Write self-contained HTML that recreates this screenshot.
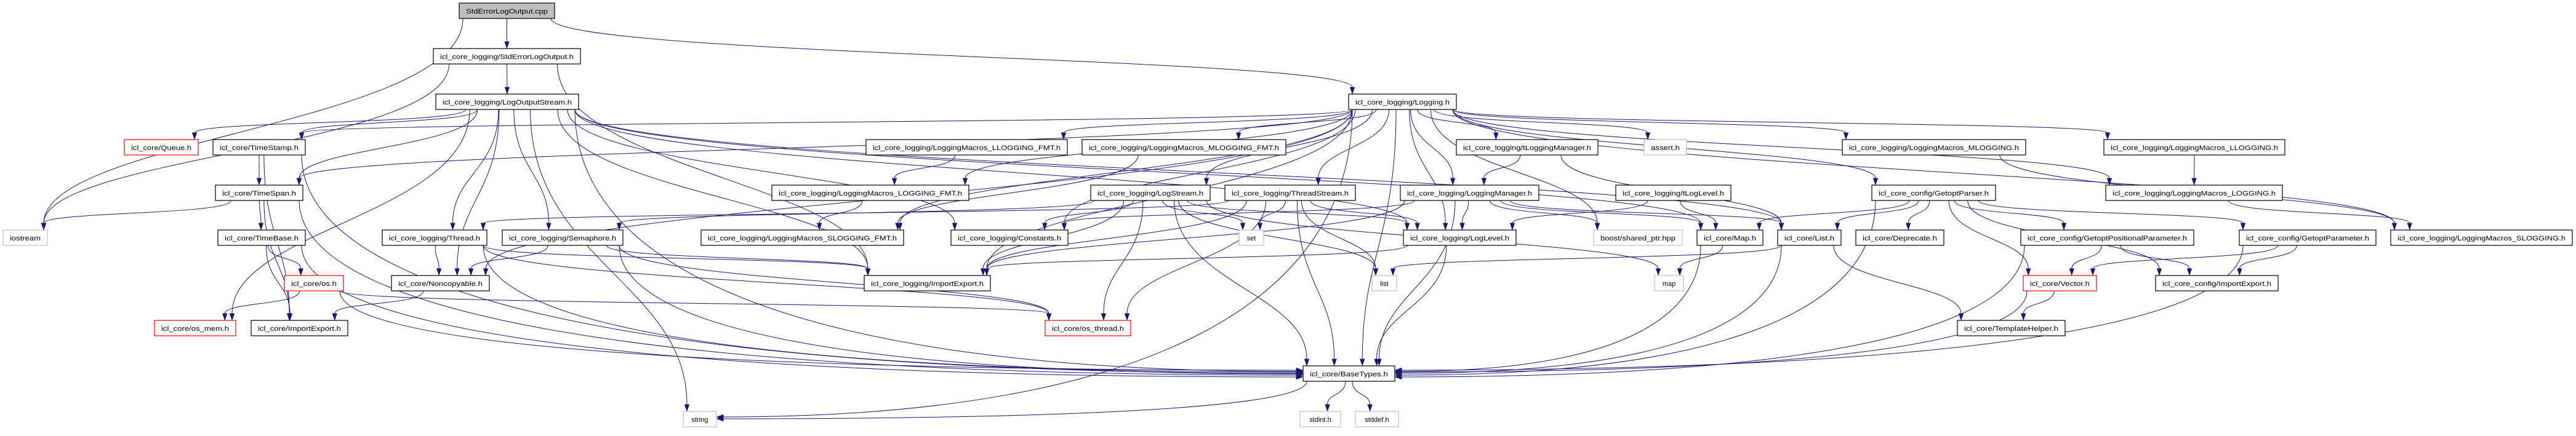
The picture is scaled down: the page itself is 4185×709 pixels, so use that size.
<!DOCTYPE html>
<html><head><meta charset="utf-8"><style>
html,body{margin:0;padding:0;background:#fff;}
svg{display:block;}
text{font-family:"Liberation Sans",Arial,sans-serif;font-size:11px;fill:#000;}
</style></head><body>
<svg id="g" width="4185" height="709" viewBox="0 0 4185 709" xmlns="http://www.w3.org/2000/svg">
<rect width="4185" height="709" fill="#fff"/>
<g id="edges" fill="none" stroke="#191970" stroke-width="1"></g>
<g id="heads" fill="#191970" stroke="#191970" stroke-width="1"></g>
<g id="nodes" stroke-width="1.2">
<rect x="746" y="5" width="155" height="25" fill="#bfbfbf" stroke="#000"/><text x="823.5" y="22" text-anchor="middle" textLength="133" lengthAdjust="spacingAndGlyphs">StdErrorLogOutput.cpp</text>
<rect x="704" y="79" width="239" height="25" fill="#fff" stroke="#000"/><text x="823.5" y="96" text-anchor="middle" textLength="217" lengthAdjust="spacingAndGlyphs">icl_core_logging/StdErrorLogOutput.h</text>
<rect x="708" y="153" width="232" height="25" fill="#fff" stroke="#000"/><text x="824" y="170" text-anchor="middle" textLength="210" lengthAdjust="spacingAndGlyphs">icl_core_logging/LogOutputStream.h</text>
<rect x="2191" y="153" width="175" height="25" fill="#fff" stroke="#000"/><text x="2278.5" y="170" text-anchor="middle" textLength="153" lengthAdjust="spacingAndGlyphs">icl_core_logging/Logging.h</text>
<rect x="202" y="227" width="120" height="25" fill="#fff" stroke="#f00"/><text x="262" y="244" text-anchor="middle" textLength="98" lengthAdjust="spacingAndGlyphs">icl_core/Queue.h</text>
<rect x="346" y="227" width="150" height="25" fill="#fff" stroke="#000"/><text x="421" y="244" text-anchor="middle" textLength="128" lengthAdjust="spacingAndGlyphs">icl_core/TimeStamp.h</text>
<rect x="1407" y="227" width="327" height="25" fill="#fff" stroke="#000"/><text x="1570.5" y="244" text-anchor="middle" textLength="305" lengthAdjust="spacingAndGlyphs">icl_core_logging/LoggingMacros_LLOGGING_FMT.h</text>
<rect x="1758" y="227" width="331" height="25" fill="#fff" stroke="#000"/><text x="1923.5" y="244" text-anchor="middle" textLength="309" lengthAdjust="spacingAndGlyphs">icl_core_logging/LoggingMacros_MLOGGING_FMT.h</text>
<rect x="2366" y="227" width="230" height="25" fill="#fff" stroke="#000"/><text x="2481" y="244" text-anchor="middle" textLength="208" lengthAdjust="spacingAndGlyphs">icl_core_logging/tLoggingManager.h</text>
<rect x="2671" y="227" width="69" height="25" fill="#fff" stroke="#bfbfbf"/><text x="2705.5" y="244" text-anchor="middle" textLength="47" lengthAdjust="spacingAndGlyphs">assert.h</text>
<rect x="2993" y="227" width="298" height="25" fill="#fff" stroke="#000"/><text x="3142" y="244" text-anchor="middle" textLength="276" lengthAdjust="spacingAndGlyphs">icl_core_logging/LoggingMacros_MLOGGING.h</text>
<rect x="3418" y="227" width="294" height="25" fill="#fff" stroke="#000"/><text x="3565" y="244" text-anchor="middle" textLength="272" lengthAdjust="spacingAndGlyphs">icl_core_logging/LoggingMacros_LLOGGING.h</text>
<rect x="350" y="301" width="142" height="25" fill="#fff" stroke="#000"/><text x="421" y="318" text-anchor="middle" textLength="120" lengthAdjust="spacingAndGlyphs">icl_core/TimeSpan.h</text>
<rect x="1254" y="301" width="320" height="25" fill="#fff" stroke="#000"/><text x="1414" y="318" text-anchor="middle" textLength="298" lengthAdjust="spacingAndGlyphs">icl_core_logging/LoggingMacros_LOGGING_FMT.h</text>
<rect x="1772" y="301" width="194" height="25" fill="#fff" stroke="#000"/><text x="1869" y="318" text-anchor="middle" textLength="172" lengthAdjust="spacingAndGlyphs">icl_core_logging/LogStream.h</text>
<rect x="1990" y="301" width="212" height="25" fill="#fff" stroke="#000"/><text x="2096" y="318" text-anchor="middle" textLength="190" lengthAdjust="spacingAndGlyphs">icl_core_logging/ThreadStream.h</text>
<rect x="2275" y="301" width="225" height="25" fill="#fff" stroke="#000"/><text x="2387.5" y="318" text-anchor="middle" textLength="203" lengthAdjust="spacingAndGlyphs">icl_core_logging/LoggingManager.h</text>
<rect x="2625" y="301" width="187" height="25" fill="#fff" stroke="#000"/><text x="2718.5" y="318" text-anchor="middle" textLength="165" lengthAdjust="spacingAndGlyphs">icl_core_logging/tLogLevel.h</text>
<rect x="3041" y="301" width="201" height="25" fill="#fff" stroke="#000"/><text x="3141.5" y="318" text-anchor="middle" textLength="179" lengthAdjust="spacingAndGlyphs">icl_core_config/GetoptParser.h</text>
<rect x="3421" y="301" width="287" height="25" fill="#fff" stroke="#000"/><text x="3564.5" y="318" text-anchor="middle" textLength="265" lengthAdjust="spacingAndGlyphs">icl_core_logging/LoggingMacros_LOGGING.h</text>
<rect x="5" y="374" width="72" height="25" fill="#fff" stroke="#bfbfbf"/><text x="41" y="391" text-anchor="middle" textLength="50" lengthAdjust="spacingAndGlyphs">iostream</text>
<rect x="354" y="374" width="142" height="25" fill="#fff" stroke="#000"/><text x="425" y="391" text-anchor="middle" textLength="120" lengthAdjust="spacingAndGlyphs">icl_core/TimeBase.h</text>
<rect x="621" y="374" width="170" height="25" fill="#fff" stroke="#000"/><text x="706" y="391" text-anchor="middle" textLength="148" lengthAdjust="spacingAndGlyphs">icl_core_logging/Thread.h</text>
<rect x="816" y="374" width="196" height="25" fill="#fff" stroke="#000"/><text x="914" y="391" text-anchor="middle" textLength="174" lengthAdjust="spacingAndGlyphs">icl_core_logging/Semaphore.h</text>
<rect x="1139" y="374" width="329" height="25" fill="#fff" stroke="#000"/><text x="1303.5" y="391" text-anchor="middle" textLength="307" lengthAdjust="spacingAndGlyphs">icl_core_logging/LoggingMacros_SLOGGING_FMT.h</text>
<rect x="1545" y="374" width="190" height="25" fill="#fff" stroke="#000"/><text x="1640" y="391" text-anchor="middle" textLength="168" lengthAdjust="spacingAndGlyphs">icl_core_logging/Constants.h</text>
<rect x="2013" y="374" width="40" height="25" fill="#fff" stroke="#bfbfbf"/><text x="2033" y="391" text-anchor="middle">set</text>
<rect x="2280" y="374" width="183" height="25" fill="#fff" stroke="#000"/><text x="2371.5" y="391" text-anchor="middle" textLength="161" lengthAdjust="spacingAndGlyphs">icl_core_logging/LogLevel.h</text>
<rect x="2589" y="374" width="144" height="25" fill="#fff" stroke="#bfbfbf"/><text x="2661" y="391" text-anchor="middle" textLength="122" lengthAdjust="spacingAndGlyphs">boost/shared_ptr.hpp</text>
<rect x="2757" y="374" width="107" height="25" fill="#fff" stroke="#000"/><text x="2810.5" y="391" text-anchor="middle" textLength="85" lengthAdjust="spacingAndGlyphs">icl_core/Map.h</text>
<rect x="2888" y="374" width="103" height="25" fill="#fff" stroke="#000"/><text x="2939.5" y="391" text-anchor="middle" textLength="81" lengthAdjust="spacingAndGlyphs">icl_core/List.h</text>
<rect x="3015" y="374" width="143" height="25" fill="#fff" stroke="#000"/><text x="3086.5" y="391" text-anchor="middle" textLength="121" lengthAdjust="spacingAndGlyphs">icl_core/Deprecate.h</text>
<rect x="3283" y="374" width="281" height="25" fill="#fff" stroke="#000"/><text x="3423.5" y="391" text-anchor="middle" textLength="259" lengthAdjust="spacingAndGlyphs">icl_core_config/GetoptPositionalParameter.h</text>
<rect x="3638" y="374" width="222" height="25" fill="#fff" stroke="#000"/><text x="3749" y="391" text-anchor="middle" textLength="200" lengthAdjust="spacingAndGlyphs">icl_core_config/GetoptParameter.h</text>
<rect x="3884" y="374" width="295" height="25" fill="#fff" stroke="#000"/><text x="4031.5" y="391" text-anchor="middle" textLength="273" lengthAdjust="spacingAndGlyphs">icl_core_logging/LoggingMacros_SLOGGING.h</text>
<rect x="462" y="448" width="96" height="25" fill="#fff" stroke="#f00"/><text x="510" y="465" text-anchor="middle" textLength="74" lengthAdjust="spacingAndGlyphs">icl_core/os.h</text>
<rect x="636" y="448" width="159" height="25" fill="#fff" stroke="#000"/><text x="715.5" y="465" text-anchor="middle" textLength="137" lengthAdjust="spacingAndGlyphs">icl_core/Noncopyable.h</text>
<rect x="1404" y="448" width="205" height="25" fill="#fff" stroke="#000"/><text x="1506.5" y="465" text-anchor="middle" textLength="183" lengthAdjust="spacingAndGlyphs">icl_core_logging/ImportExport.h</text>
<rect x="2229" y="448" width="40" height="25" fill="#fff" stroke="#bfbfbf"/><text x="2249" y="465" text-anchor="middle">list</text>
<rect x="2688" y="448" width="47" height="25" fill="#fff" stroke="#bfbfbf"/><text x="2711.5" y="465" text-anchor="middle">map</text>
<rect x="3287" y="448" width="119" height="25" fill="#fff" stroke="#f00"/><text x="3346.5" y="465" text-anchor="middle" textLength="97" lengthAdjust="spacingAndGlyphs">icl_core/Vector.h</text>
<rect x="3502" y="448" width="199" height="25" fill="#fff" stroke="#000"/><text x="3601.5" y="465" text-anchor="middle" textLength="177" lengthAdjust="spacingAndGlyphs">icl_core_config/ImportExport.h</text>
<rect x="251" y="521" width="132" height="25" fill="#fff" stroke="#f00"/><text x="317" y="538" text-anchor="middle" textLength="110" lengthAdjust="spacingAndGlyphs">icl_core/os_mem.h</text>
<rect x="408" y="521" width="157" height="25" fill="#fff" stroke="#000"/><text x="486.5" y="538" text-anchor="middle" textLength="135" lengthAdjust="spacingAndGlyphs">icl_core/ImportExport.h</text>
<rect x="1698" y="521" width="139" height="25" fill="#fff" stroke="#f00"/><text x="1767.5" y="538" text-anchor="middle" textLength="117" lengthAdjust="spacingAndGlyphs">icl_core/os_thread.h</text>
<rect x="3180" y="521" width="175" height="25" fill="#fff" stroke="#000"/><text x="3267.5" y="538" text-anchor="middle" textLength="153" lengthAdjust="spacingAndGlyphs">icl_core/TemplateHelper.h</text>
<rect x="2117" y="595" width="149" height="25" fill="#fff" stroke="#000"/><text x="2191.5" y="612" text-anchor="middle" textLength="127" lengthAdjust="spacingAndGlyphs">icl_core/BaseTypes.h</text>
<rect x="1110" y="669" width="54" height="25" fill="#fff" stroke="#bfbfbf"/><text x="1137" y="686" text-anchor="middle">string</text>
<rect x="2112" y="669" width="66" height="25" fill="#fff" stroke="#bfbfbf"/><text x="2145" y="686" text-anchor="middle">stdint.h</text>
<rect x="2202" y="669" width="70" height="25" fill="#fff" stroke="#bfbfbf"/><text x="2237" y="686" text-anchor="middle">stddef.h</text>
</g>
</svg>
<script>
var N={cpp:[746,901,5],seh:[704,943,79],los:[708,940,153],lg:[2191,2366,153],queue:[202,322,227],ts:[346,496,227],llf:[1407,1734,227],mlf:[1758,2089,227],tlm:[2366,2596,227],assert:[2671,2740,227],ml:[2993,3291,227],ll:[3418,3712,227],tsp:[350,492,301],lgf:[1254,1574,301],lst:[1772,1966,301],tst:[1990,2202,301],lm:[2275,2500,301],tll:[2625,2812,301],gp:[3041,3242,301],lgm:[3421,3708,301],iostream:[5,77,374],tb:[354,496,374],thr:[621,791,374],sem:[816,1012,374],slf:[1139,1468,374],cons:[1545,1735,374],set:[2013,2053,374],lvl:[2280,2463,374],boost:[2589,2733,374],maph:[2757,2864,374],listh:[2888,2991,374],dep:[3015,3158,374],gpp:[3283,3564,374],gpar:[3638,3860,374],sl:[3884,4179,374],os:[462,558,448],nc:[636,795,448],lie:[1404,1609,448],list:[2229,2269,448],map:[2688,2735,448],vec:[3287,3406,448],cie:[3502,3701,448],osmem:[251,383,521],cie2:[408,565,521],osthr:[1698,1837,521],th:[3180,3355,521],bt:[2117,2266,595],string:[1110,1164,669],stdint:[2112,2178,669],stddef:[2202,2272,669]};
var E={cpp:"iostream seh lg",seh:"iostream los lie",los:"queue ts osmem bt thr sem nc lie cons lvl listh maph string tsp",
lg:"ts tsp llf mlf lgf slf lst tst cons lie tlm lm lvl assert ml ll lgm sl gp boost nc bt string",
ts:"tsp cie2 bt",tsp:"iostream tb cie2 bt",tb:"os cie2 bt",os:"osmem osthr bt",nc:"cie2",thr:"nc osthr lie bt",sem:"nc lie bt osthr",
llf:"lgf",mlf:"slf",lgf:"slf",lst:"cons lie osthr set list map bt lvl sem",tst:"set list osthr bt lie lvl thr",tlm:"lm listh",
lm:"lvl bt boost listh maph lie cons",tll:"lvl maph",lvl:"bt lie",maph:"map bt",listh:"list bt th",gp:"maph listh dep gpp vec gpar cie bt",
gpp:"vec cie bt",gpar:"vec cie bt",vec:"th bt",ml:"sl",ll:"lgm",lgm:"sl",bt:"string stdint stddef"};
var ns="http://www.w3.org/2000/svg",eg=document.getElementById("edges"),hg=document.getElementById("heads");
function cl(v,a,b){return Math.max(a,Math.min(b,v));}
var sideCount={};
for(var s in E){E[s].split(" ").forEach(function(t){
 var A=N[s],B=N[t];var scx=(A[0]+A[1])/2,tcx=(B[0]+B[1])/2;
 var sx=cl(scx+(tcx-scx)*0.12,A[0]+6,A[1]-6),sy=A[2]+25;
 var p=document.createElementNS(ns,"path"),h=document.createElementNS(ns,"polygon");
 if((t=="bt"||t=="string")&&Math.abs(tcx-scx)>500){
  var left=scx<tcx;var k=t+(left?"L":"R");sideCount[k]=(sideCount[k]||0)+1;
  var ty=B[2]+6+((sideCount[k]*3)%14);var tx=left?B[0]-1:B[1]+1;var ax=left?tx-10:tx+10;
  p.setAttribute("d","M"+sx+","+sy+" C"+sx+","+(sy+(ty-sy)*0.6)+" "+(sx+(ax-sx)*0.3)+","+ty+" "+ax+","+ty);
  h.setAttribute("points",ax+","+(ty-3.5)+" "+ax+","+(ty+3.5)+" "+tx+","+ty);
 } else {
  var tx=cl(tcx+(scx-tcx)*0.25,B[0]+6,B[1]-6),ty=B[2]-1;
  var d=ty-sy,ay=ty-10;
  p.setAttribute("d","M"+sx+","+sy+" C"+sx+","+(sy+d*0.5)+" "+tx+","+(ay-d*0.4)+" "+tx+","+ay);
  h.setAttribute("points",(tx-3.5)+","+ay+" "+(tx+3.5)+","+ay+" "+tx+","+ty);
 }
 eg.appendChild(p);hg.appendChild(h);
});}
</script>
</body></html>
